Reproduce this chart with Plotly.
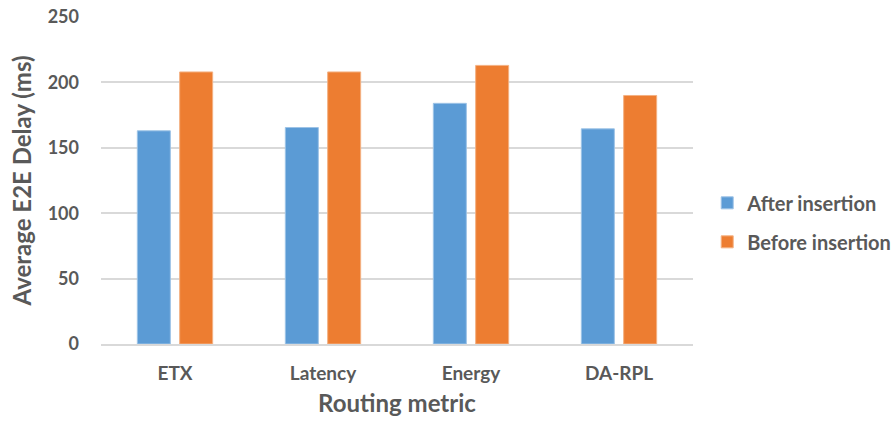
import plotly.graph_objects as go

categories = ["ETX", "Latency", "Energy", "DA-RPL"]
after_insertion = [163, 165.5, 184, 164.5]
before_insertion = [208, 208, 213, 190]
series_names = ["After insertion", "Before insertion"]
y_ticks = [0, 50, 100, 150, 200, 250]

TXT = "#595959"
FONT = "Lato"
W = "bold"

fig = go.Figure()
fig.add_trace(go.Bar(x=categories, y=after_insertion, name=series_names[0],
                     marker=dict(color="#5B9BD5", line=dict(color="#9DC3E6", width=1)),
                     legendgroup="a"))
fig.add_trace(go.Bar(x=categories, y=before_insertion, name=series_names[1],
                     marker=dict(color="#ED7D31", line=dict(color="#F4B183", width=1)),
                     legendgroup="b"))

fig.update_layout(
    width=894, height=426,
    margin=dict(l=101, r=201, t=17, b=82, autoexpand=False),
    paper_bgcolor="white", plot_bgcolor="white",
    barmode="group", bargap=0.428, bargroupgap=0.22,
    font=dict(family=FONT, size=19, color=TXT),
    showlegend=True,
    legend=dict(x=1.024, y=0.372, xanchor="left", yanchor="middle",
                font=dict(family=FONT, size=20, color=TXT, weight=W),
                traceorder="grouped", tracegroupgap=10, itemwidth=30),
    xaxis=dict(showgrid=False, showline=True, linecolor="#d9d9d9", linewidth=1.5,
               ticks="", ticklabelstandoff=11,
               tickfont=dict(family=FONT, size=19, color=TXT, weight=W),
               title=dict(text="Routing metric", standoff=13,
                          font=dict(family=FONT, size=24, color=TXT, weight=W))),
    yaxis=dict(range=[0, 250], tickvals=y_ticks, showgrid=True, gridcolor="#d9d9d9",
               gridwidth=1.5, zeroline=False, showline=False, ticks="",
               ticklabelstandoff=21,
               tickfont=dict(family=FONT, size=18, color=TXT, weight=W),
               title=dict(text="Average E2E Delay (ms)", standoff=9,
                          font=dict(family=FONT, size=24, color=TXT, weight=W))),
)

fig.write_html("out.html")
